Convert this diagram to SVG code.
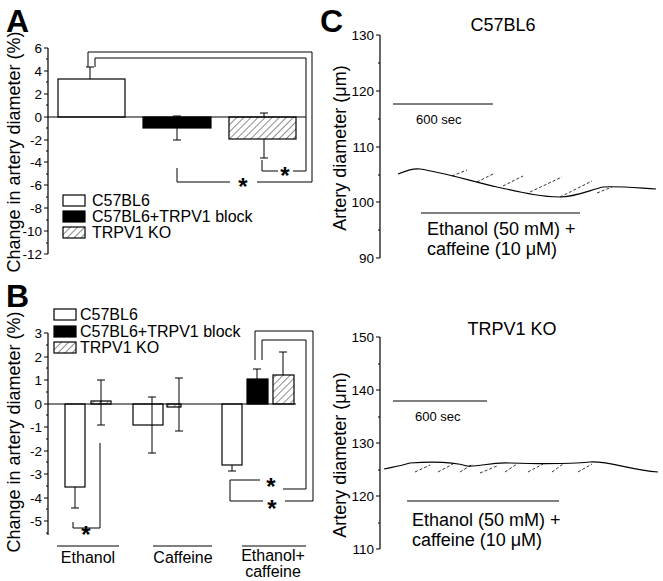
<svg xmlns="http://www.w3.org/2000/svg" width="663" height="581" viewBox="0 0 663 581">
<defs>
<pattern id="h" patternUnits="userSpaceOnUse" width="5" height="5" patternTransform="rotate(45)"><rect width="5" height="5" fill="#fff"/><line x1="0" y1="0" x2="0" y2="5" stroke="#000" stroke-width="0.9"/></pattern>
</defs>
<style>
text{font-family:"Liberation Sans",Arial,sans-serif;fill:#000}
.ax{stroke:#000;stroke-width:1.2;fill:none}
.ln{stroke:#000;stroke-width:1;fill:none}
.bar{stroke:#000;stroke-width:1.2}
.t{font-size:13.5px;text-anchor:end}
.lg{font-size:16px}
.yl{font-size:18px}
.big{font-size:32px;font-weight:bold}
.st{font-size:24px;font-weight:bold;text-anchor:middle}
.ds{stroke:#000;stroke-width:0.8;stroke-dasharray:3,2;fill:none}
</style>
<rect width="663" height="581" fill="#fff"/>
<g id="panelA">
<text class="big" x="6" y="32">A</text>
<text class="yl" transform="translate(20,152) rotate(-90)" text-anchor="middle">Change in artery diameter (%)</text>
<path class="ax" d="M48,48V254"/>
<path class="ln" d="M44,48h4M44,71h4M44,94h4M44,117h4M44,140h4M44,162h4M44,185h4M44,208h4M44,231h4M44,254h4M46,59h2M46,82h2M46,105h2M46,128h2M46,151h2M46,174h2M46,197h2M46,220h2M46,243h2"/>
<g class="t"><text x="42" y="53">6</text><text x="42" y="76">4</text><text x="42" y="99">2</text><text x="42" y="122">0</text><text x="42" y="145">-2</text><text x="42" y="167">-4</text><text x="42" y="190">-6</text><text x="42" y="213">-8</text><text x="42" y="236">-10</text><text x="42" y="259">-12</text></g>
<rect class="bar" x="58" y="79" width="67" height="38" fill="#fff"/>
<rect class="bar" x="143" y="117" width="68" height="11" fill="#000"/>
<rect class="bar" x="229" y="117" width="67" height="22" fill="url(#h)"/>
<path class="ax" d="M48,117H306"/>
<path class="ln" d="M90,79V67M86,67h8M177,128V140M173,140h8M177,117v-1M173,116h8M264,139V158M260,158h8M264,117v-4M260,113h8"/>
<rect class="bar" x="63" y="195" width="22" height="11" fill="#fff"/>
<rect class="bar" x="63" y="211" width="22" height="11" fill="#000"/>
<rect class="bar" x="63" y="227" width="22" height="11" fill="url(#h)"/>
<text class="lg" x="92" y="206">C57BL6</text>
<text class="lg" x="92" y="222">C57BL6+TRPV1 block</text>
<text class="lg" x="92" y="238">TRPV1 KO</text>
</g>
<g id="connectors">
<path class="ln" d="M88,67V52H312V182H257M230,182H177V168M95,67V58H306V171H293M278,171H262V160"/>
<text class="st" x="243" y="195">*</text>
<text class="st" x="285" y="184">*</text>
<path class="ln" d="M255,360V331H313V501H285M263,501H230V480H260M262,360V340H306V489H283"/>
<text class="st" x="272" y="517">*</text>
<text class="st" x="271" y="495">*</text>
<path class="ln" d="M100,443V528H73V522"/>
<text class="st" x="86" y="543">*</text>
</g>
<g id="panelB">
<text class="big" x="6" y="307">B</text>
<text class="yl" transform="translate(20,432) rotate(-90)" text-anchor="middle">Change in artery diameter (%)</text>
<path class="ax" d="M48,333V535"/>
<path class="ln" d="M44,333h4M44,357h4M44,380h4M44,404h4M44,427h4M44,451h4M44,474h4M44,498h4M44,521h4M46,345h2M46,368h2M46,392h2M46,415h2M46,439h2M46,462h2M46,486h2M46,509h2M46,533h2"/>
<g class="t"><text x="42" y="338">3</text><text x="42" y="362">2</text><text x="42" y="385">1</text><text x="42" y="409">0</text><text x="42" y="432">-1</text><text x="42" y="456">-2</text><text x="42" y="479">-3</text><text x="42" y="503">-4</text><text x="42" y="526">-5</text></g>
<rect class="bar" x="65" y="404" width="20" height="83" fill="#fff"/>
<rect class="bar" x="91" y="401" width="20" height="3" fill="url(#h)"/>
<rect class="bar" x="133" y="404" width="30" height="21" fill="#fff"/>
<rect class="bar" x="167" y="404" width="14" height="3" fill="url(#h)"/>
<rect class="bar" x="222" y="404" width="20" height="61" fill="#fff"/>
<rect class="bar" x="247" y="379" width="21" height="25" fill="#000"/>
<rect class="bar" x="273" y="375" width="21" height="29" fill="url(#h)"/>
<path class="ax" d="M48,404H296"/>
<path class="ln" d="M75,487V508M71,508h8M101,380V425M97,380h8M97,425h8M152,397V453M148,397h8M148,453h8M179,378V431M175,378h8M175,431h8M232,465V471M228,471h8M257,379V369M253,369h8M283,375V352M279,352h8"/>
<rect class="bar" x="54" y="309" width="22" height="11" fill="#fff"/>
<rect class="bar" x="54" y="326" width="22" height="11" fill="#000"/>
<rect class="bar" x="54" y="342" width="22" height="11" fill="url(#h)"/>
<text class="lg" x="80" y="320">C57BL6</text>
<text class="lg" x="80" y="337">C57BL6+TRPV1 block</text>
<text class="lg" x="80" y="353">TRPV1 KO</text>
<path class="ln" d="M57,546H119M153,546H212M242,546H306"/>
<g font-size="16" text-anchor="middle"><text x="88" y="563">Ethanol</text><text x="183" y="563">Caffeine</text><text x="273" y="561">Ethanol+</text><text x="273" y="577">caffeine</text></g>
</g>
<g id="panelC1">
<text class="big" x="320" y="32">C</text>
<text class="yl" x="503" y="31" text-anchor="middle">C57BL6</text>
<text class="yl" transform="translate(346,148) rotate(-90)" text-anchor="middle">Artery diameter (μm)</text>
<path class="ax" d="M380,35V258"/>
<path class="ln" d="M376,35h4M376,91h4M376,147h4M376,202h4M376,258h4M378,63h2M378,119h2M378,175h2M378,230h2"/>
<g class="t"><text x="374" y="40">130</text><text x="374" y="96">120</text><text x="374" y="152">110</text><text x="374" y="207">100</text><text x="374" y="263">90</text></g>
<path class="ln" d="M393,104H493"/>
<text x="416" y="124" font-size="13">600 sec</text>
<path class="ax" d="M398,174C405,171 413,168 420,169C440,172 460,178 497,187C520,192 540,197 560,197C575,197 590,190 603,187C615,186 625,187 656,189"/>
<path class="ds" d="M452,176L467,170M477,182L495,173M503,186L523,176M530,192L562,177M560,197L592,181M597,193L612,187"/>
<path class="ln" d="M421,213H580"/>
<text class="yl" x="427" y="235">Ethanol (50 mM) +</text>
<text class="yl" x="427" y="255">caffeine (10 μM)</text>
</g>
<g id="panelC2">
<text class="yl" x="512" y="335" text-anchor="middle">TRPV1 KO</text>
<text class="yl" transform="translate(346,455) rotate(-90)" text-anchor="middle">Artery diameter (μm)</text>
<path class="ax" d="M380,337V549"/>
<path class="ln" d="M376,337h4M376,390h4M376,443h4M376,496h4M376,549h4M378,364h2M378,417h2M378,470h2M378,523h2"/>
<g class="t"><text x="374" y="342">150</text><text x="374" y="395">140</text><text x="374" y="448">130</text><text x="374" y="501">120</text><text x="374" y="554">110</text></g>
<path class="ln" d="M393,401H487"/>
<text x="415" y="421" font-size="13">600 sec</text>
<path class="ax" d="M384,469C393,467 400,466 410,463C425,462 450,461 467,466C480,467 490,462 510,463C540,464 570,464 590,462C610,461 630,470 658,472"/>
<path class="ds" d="M415,472L430,465M438,472L453,464M460,472L473,464M480,473L497,466M505,472L517,464M528,472L543,464M552,472L563,464M578,472L592,464"/>
<path class="ln" d="M407,501H559"/>
<text class="yl" x="412" y="526">Ethanol (50 mM) +</text>
<text class="yl" x="412" y="546">caffeine (10 μM)</text>
</g>
</svg>
